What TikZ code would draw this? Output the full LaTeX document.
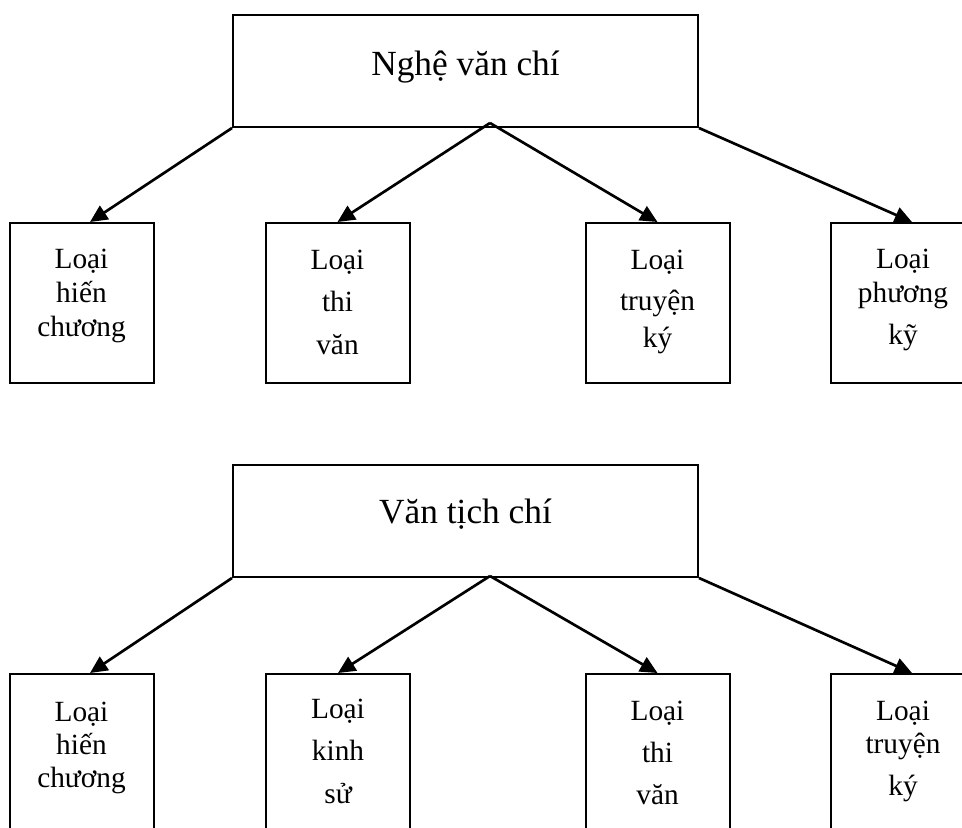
\documentclass[tikz,border=0pt]{standalone}
\usepackage{fontspec}
\setmainfont{Liberation Serif}
\usetikzlibrary{arrows.meta,calc}
\begin{document}
\begin{tikzpicture}[x=0.75pt,y=-0.75pt,
  headbox/.style={draw,line width=1.5pt,minimum width=348.75pt,minimum height=84pt,inner sep=0pt},
  leafbox/.style={draw,line width=1.5pt,minimum width=108pt,minimum height=120pt,inner sep=0pt},
  headtext/.style={anchor=base,font=\fontsize{26.5}{30}\selectfont,inner sep=0pt},
  leaftext/.style={anchor=base,font=\fontsize{22}{26}\selectfont,inner sep=0pt},
  link/.style={line width=2pt,-{Triangle[length=13pt,width=12pt]}}]
\useasboundingbox (0,0) rectangle (962,827);
\clip (0,0) rectangle (962,827);

% ---------- upper tree ----------
\node[headbox] (T1) at (465.5,71) {};
\node[headtext] (T1t) at (465.5,76) {Nghệ văn chí};
\coordinate (T1apex) at (490,123);

\node[leafbox] (A1) at (81.5,303) {};
\node[leafbox] (A2) at (337.5,303) {};
\node[leafbox] (A3) at (657.5,303) {};
\node[leafbox] (A4) at (903,303) {};

\node[leaftext] (A1a) at (81.5,268) {Loại};
\node[leaftext] (A1b) at (81.5,302) {hiến};
\node[leaftext] (A1c) at (81.5,336) {chương};
\node[leaftext] (A2a) at (337.5,269) {Loại};
\node[leaftext] (A2b) at (337.5,311) {thi};
\node[leaftext] (A2c) at (337.5,354) {văn};
\node[leaftext] (A3a) at (657.5,269) {Loại};
\node[leaftext] (A3b) at (657.5,310) {truyện};
\node[leaftext] (A3c) at (657.5,347) {ký};
\node[leaftext] (A4a) at (903,268) {Loại};
\node[leaftext] (A4b) at (903,302) {phương};
\node[leaftext] (A4c) at (903,344) {kỹ};

\coordinate (A1in) at ($(A1.north)+(8.5,0)$);
\coordinate (A4in) at ($(A4.north)+(9,0)$);
\draw[link] (T1.south west) -- (A1in);
\draw[link] (T1apex) -- (A2.north);
\draw[link] (T1apex) -- (A3.north);
\draw[link] (T1.south east) -- (A4in);

% ---------- lower tree ----------
\node[headbox] (T2) at (465.5,521) {};
\node[headtext] (T2t) at (465.5,523) {Văn tịch chí};
\coordinate (T2apex) at (490,576);

\node[leafbox] (B1) at (81.5,754) {};
\node[leafbox] (B2) at (338,754) {};
\node[leafbox] (B3) at (657.5,754) {};
\node[leafbox] (B4) at (903,754) {};

\node[leaftext] (B1a) at (81.5,721) {Loại};
\node[leaftext] (B1b) at (81.5,754) {hiến};
\node[leaftext] (B1c) at (81.5,787) {chương};
\node[leaftext] (B2a) at (338,718) {Loại};
\node[leaftext] (B2b) at (338,760) {kinh};
\node[leaftext] (B2c) at (338,803) {sử};
\node[leaftext] (B3a) at (657.5,720) {Loại};
\node[leaftext] (B3b) at (657.5,762) {thi};
\node[leaftext] (B3c) at (657.5,804) {văn};
\node[leaftext] (B4a) at (903,720) {Loại};
\node[leaftext] (B4b) at (903,753) {truyện};
\node[leaftext] (B4c) at (903,795) {ký};

\coordinate (B1in) at ($(B1.north)+(8.5,0)$);
\coordinate (B4in) at ($(B4.north)+(9,0)$);
\draw[link] (T2.south west) -- (B1in);
\draw[link] (T2apex) -- (B2.north);
\draw[link] (T2apex) -- (B3.north);
\draw[link] (T2.south east) -- (B4in);
\end{tikzpicture}
\end{document}
